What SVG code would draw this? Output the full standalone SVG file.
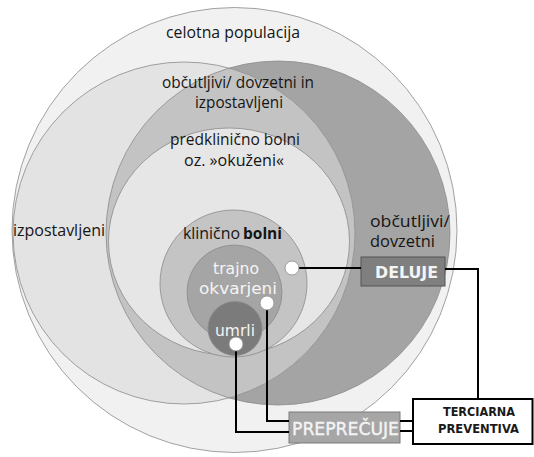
<svg xmlns="http://www.w3.org/2000/svg" width="534" height="457" viewBox="0 0 534 457">
  <style>
    .ring { stroke: #8a8a8a; stroke-width: 0.8; }
    .lbl { font-family: "Open Sans", "DejaVu Sans", sans-serif; font-size: 16px; fill: #151515; }
    .wht { font-family: "DejaVu Sans", "Open Sans", sans-serif; font-size: 15.5px; fill: #f4f4f4; }
    .box { font-family: "DejaVu Sans", sans-serif; font-weight: bold; }
    .wire { fill: none; stroke: #000; stroke-width: 2; }
    .dot { fill: #fff; stroke: #8a8a8a; stroke-width: 0.8; }
  </style>

  <rect width="534" height="457" fill="#fff"/>

  <!-- whole population -->
  <g id="celotna-populacija">
    <circle class="ring" cx="234.5" cy="230" r="222.5" fill="#f1f1f1"/>
    <text class="lbl" x="166" y="38" textLength="134" lengthAdjust="spacingAndGlyphs">celotna populacija</text>
  </g>

  <!-- susceptible (right) and exposed (left) with their overlap -->
  <g id="obcutljivi-dovzetni">
    <circle cx="278" cy="233" r="172" fill="#a4a4a4"/>
    <text class="lbl" x="370" y="227" textLength="80" lengthAdjust="spacingAndGlyphs">občutljivi/</text>
    <text class="lbl" x="370" y="247" textLength="65" lengthAdjust="spacingAndGlyphs">dovzetni</text>
  </g>
  <g id="izpostavljeni">
    <circle cx="184" cy="233" r="171" fill="#e3e3e3"/>
    <text class="lbl" x="13" y="236" textLength="92" lengthAdjust="spacingAndGlyphs">izpostavljeni</text>
  </g>
  <g id="obcutljivi-in-izpostavljeni">
    <path d="M229.18 68.08 A171 171 0 0 1 229.18 397.92 A172 172 0 0 1 229.18 68.08 Z" fill="#c3c3c3"/>
    <circle class="ring" cx="278" cy="233" r="172" fill="none"/>
    <circle class="ring" cx="184" cy="233" r="171" fill="none"/>
    <text class="lbl" x="162" y="88" textLength="152" lengthAdjust="spacingAndGlyphs">občutljivi/ dovzetni in</text>
    <text class="lbl" x="195" y="108" textLength="88" lengthAdjust="spacingAndGlyphs">izpostavljeni</text>
  </g>

  <!-- infected, nested stages -->
  <g id="predklinicno-bolni">
    <ellipse class="ring" cx="229" cy="241.5" rx="120.5" ry="113.5" fill="#e6e6e6"/>
    <text class="lbl" x="170" y="145" font-size="15.5" textLength="130" lengthAdjust="spacingAndGlyphs">predklinično bolni</text>
    <text class="lbl" x="184" y="166" font-size="15.5" textLength="100" lengthAdjust="spacingAndGlyphs">oz. »okuženi«</text>
  </g>
  <g id="klinicno-bolni">
    <circle class="ring" cx="233.5" cy="283.5" r="73.5" fill="#c4c4c4"/>
    <text class="lbl" x="183" y="239" textLength="57" lengthAdjust="spacingAndGlyphs">klinično</text>
    <text class="lbl" x="243" y="239" textLength="39" lengthAdjust="spacingAndGlyphs" font-weight="bold">bolni</text>
  </g>
  <g id="trajno-okvarjeni">
    <circle class="ring" cx="234.5" cy="292.5" r="47.5" fill="#a5a5a5"/>
    <text class="wht" x="213" y="274" textLength="46" lengthAdjust="spacingAndGlyphs">trajno</text>
    <text class="wht" x="199" y="294" textLength="78" lengthAdjust="spacingAndGlyphs">okvarjeni</text>
  </g>
  <g id="umrli">
    <circle class="ring" cx="235" cy="328.5" r="27" fill="#7b7b7b"/>
    <text class="wht" x="215" y="336" textLength="40" lengthAdjust="spacingAndGlyphs">umrli</text>
  </g>

  <!-- action boxes -->
  <g id="deluje">
    <rect x="361" y="257" width="84" height="29" fill="#7f7f7f" stroke="#555" stroke-width="1"/>
    <text class="box" x="375" y="278" font-size="16" fill="#f4f4f4" textLength="63" lengthAdjust="spacingAndGlyphs">DELUJE</text>
  </g>
  <g id="preprecuje">
    <rect x="289" y="412" width="111" height="31" fill="#a6a6a6" stroke="#7a7a7a" stroke-width="1"/>
    <text x="292" y="435" font-family="DejaVu Sans, sans-serif" font-size="18" fill="#f4f4f4" stroke="#f4f4f4" stroke-width="0.4" textLength="107" lengthAdjust="spacingAndGlyphs">PREPREČUJE</text>
  </g>
  <g id="terciarna-preventiva">
    <rect x="413" y="399" width="119.5" height="45" fill="#fff" stroke="#000" stroke-width="2"/>
    <text class="box" x="443" y="416" font-size="13" fill="#1a1a1a" textLength="72" lengthAdjust="spacingAndGlyphs">TERCIARNA</text>
    <text class="box" x="438" y="433" font-size="13" fill="#1a1a1a" textLength="81" lengthAdjust="spacingAndGlyphs">PREVENTIVA</text>
  </g>

  <!-- connectors -->
  <g id="connectors">
    <path class="wire" d="M292 268 H361"/>
    <path class="wire" d="M445 269 H478 V399"/>
    <path class="wire" d="M267 303 V421 H289"/>
    <path class="wire" d="M236 344 V432 H289"/>
    <path class="wire" d="M400 421 H413 M400 431 H413"/>
  </g>

  <!-- anchor points on the stages -->
  <g id="anchors">
    <circle class="dot" cx="292" cy="268" r="7"/>
    <circle class="dot" cx="267" cy="303" r="7"/>
    <circle class="dot" cx="236" cy="344" r="7"/>
  </g>
</svg>
